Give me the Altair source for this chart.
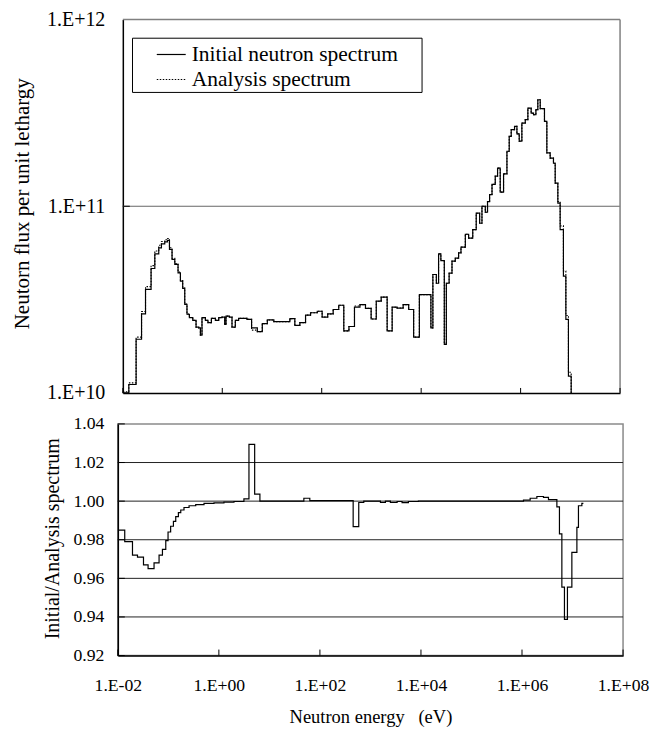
import altair as alt
import pandas as pd

FONT = "Liberation Serif"

# ---------------- top panel: neutron spectrum (group lower edges, eV) ----------------
energy_edges = [
    0.0100, 0.0132, 0.0185, 0.0238, 0.0286, 0.0370, 0.0440, 0.0528, 0.0598, 0.0697,
    0.0791, 0.0867, 0.0977, 0.111, 0.129, 0.144, 0.160, 0.176, 0.195, 0.218,
    0.255, 0.297, 0.336, 0.363, 0.391, 0.458, 0.516, 0.604, 0.726, 0.847,
    0.986, 1.12, 1.19, 1.39, 1.57, 1.83, 2.13, 3.13, 3.89, 5.07,
    6.38, 8.05, 10.9, 22.9, 28.8, 36.3, 47.3, 59.6, 81.3, 102,
    132, 170, 220, 278, 353, 456, 588, 759, 986, 1250,
    1570, 2070, 2610, 3280, 4340, 5610, 7060, 9200, 1.57e4, 1.72e4,
    2.02e4, 2.24e4, 2.49e4, 2.92e4, 3.21e4, 3.65e4, 4.17e4, 4.86e4, 5.66e4, 6.32e4,
    7.73e4, 9.00e4, 1.09e5, 1.28e5, 1.50e5, 1.67e5, 1.95e5, 2.16e5, 2.38e5, 2.66e5,
    3.09e5, 3.44e5, 3.89e5, 4.54e5, 5.31e5, 5.90e5, 6.47e5, 7.55e5, 8.43e5, 9.38e5,
    1.06e6, 1.24e6, 1.40e6, 1.63e6, 1.82e6, 2.03e6, 2.22e6, 2.48e6, 3.02e6, 3.37e6,
    3.93e6, 4.58e6, 4.96e6, 5.61e6, 6.24e6, 7.26e6, 8.13e6, 9.16e6, 1.04e7,
]
initial_flux = [
    1.00e10, 1.11e10, 1.94e10, 2.65e10, 3.59e10, 4.64e10, 5.56e10, 5.98e10, 6.29e10, 6.44e10,
    6.56e10, 5.87e10, 5.19e10, 4.88e10, 4.40e10, 3.97e10, 3.63e10, 2.98e10, 2.64e10, 2.53e10,
    2.45e10, 2.25e10, 2.23e10, 2.04e10, 2.53e10, 2.45e10, 2.38e10, 2.51e10, 2.45e10, 2.53e10,
    2.55e10, 2.33e10, 2.58e10, 2.55e10, 2.25e10, 2.45e10, 2.51e10, 2.48e10, 2.23e10, 2.13e10,
    2.35e10, 2.46e10, 2.41e10, 2.50e10, 2.30e10, 2.38e10, 2.61e10, 2.69e10, 2.74e10, 2.55e10,
    2.65e10, 2.80e10, 2.95e10, 2.15e10, 2.27e10, 2.88e10, 2.97e10, 2.84e10, 2.49e10, 3.10e10,
    3.26e10, 2.15e10, 2.88e10, 2.85e10, 2.97e10, 2.80e10, 1.99e10, 3.36e10, 2.23e10, 4.31e10,
    3.87e10, 5.56e10, 5.12e10, 1.82e10, 3.87e10, 4.38e10, 5.08e10, 5.27e10, 5.63e10, 6.04e10,
    7.08e10, 6.75e10, 7.50e10, 9.18e10, 8.11e10, 1.00e11, 9.29e10, 1.06e11, 1.155e11, 1.31e11,
    1.45e11, 1.60e11, 1.19e11, 1.49e11, 1.97e11, 2.37e11, 2.57e11, 2.68e11, 2.44e11, 2.23e11,
    2.79e11, 2.91e11, 3.35e11, 3.15e11, 3.09e11, 3.29e11, 3.72e11, 3.33e11, 2.85e11, 1.93e11,
    1.81e11, 1.70e11, 1.33e11, 1.04e11, 7.50e10, 4.22e10, 2.48e10, 1.23e10, 5.0e9,
]
analysis_flux = [
    1.015e10, 1.133e10, 1.99e10, 2.73e10, 3.71e10, 4.81e10, 5.76e10, 6.18e10, 6.48e10, 6.62e10,
    6.72e10, 5.99e10, 5.27e10, 4.94e10, 4.44e10, 4.00e10, 3.65e10, 2.99e10, 2.645e10, 2.535e10,
    2.45e10, 2.25e10, 2.23e10, 2.04e10, 2.53e10, 2.45e10, 2.38e10, 2.51e10, 2.45e10, 2.53e10,
    2.55e10, 2.33e10, 2.58e10, 2.55e10, 2.25e10, 2.45e10, 2.51e10, 2.48e10, 2.17e10, 2.13e10,
    2.35e10, 2.46e10, 2.41e10, 2.50e10, 2.30e10, 2.38e10, 2.61e10, 2.69e10, 2.74e10, 2.55e10,
    2.65e10, 2.80e10, 2.95e10, 2.15e10, 2.27e10, 2.92e10, 2.97e10, 2.84e10, 2.49e10, 3.10e10,
    3.26e10, 2.15e10, 2.88e10, 2.85e10, 2.97e10, 2.80e10, 1.99e10, 3.36e10, 2.23e10, 4.31e10,
    3.87e10, 5.56e10, 5.12e10, 1.82e10, 3.87e10, 4.38e10, 5.08e10, 5.27e10, 5.63e10, 6.04e10,
    7.08e10, 6.75e10, 7.50e10, 9.18e10, 8.11e10, 1.00e11, 9.29e10, 1.06e11, 1.155e11, 1.31e11,
    1.45e11, 1.60e11, 1.19e11, 1.49e11, 1.97e11, 2.37e11, 2.57e11, 2.68e11, 2.44e11, 2.23e11,
    2.79e11, 2.91e11, 3.35e11, 3.15e11, 3.09e11, 3.29e11, 3.72e11, 3.33e11, 2.85e11, 1.93e11,
    1.81e11, 1.70e11, 1.33e11, 1.06e11, 7.85e10, 4.50e10, 2.60e10, 1.29e10, 5.0e9,
]

# ---------------- bottom panel: ratio initial / analysis ----------------
ratio_edges = [
    0.0100, 0.0137, 0.0195, 0.0245, 0.0322, 0.0397, 0.0521, 0.0655, 0.0764, 0.0889,
    0.0986, 0.111, 0.126, 0.140, 0.158, 0.176, 0.204, 0.257, 0.348, 0.508,
    0.800, 1.26, 1.99, 3.13, 3.94, 5.11, 6.49, 48.1, 63.1, 455,
    587, 738, 1578, 1977, 2483, 3373, 4227, 5636, 8892, 1.07e6,
    1.45e6, 1.97e6, 2.66e6, 3.34e6, 4.90e6, 5.51e6, 6.15e6, 6.92e6, 7.93e6, 9.70e6,
    1.22e7, 1.31e7, 1.53e7, 1.64e7,
]
ratio_values = [
    0.985, 0.979, 0.972, 0.971, 0.967, 0.965, 0.968, 0.972, 0.975, 0.9795,
    0.984, 0.987, 0.9895, 0.992, 0.994, 0.9954, 0.9967, 0.9976, 0.9982, 0.9988,
    0.9991, 0.9995, 0.9998, 1.0012, 1.0294, 1.0036, 1.0000, 1.0015, 1.0003, 0.9868,
    0.9993, 1.0000, 0.9993, 1.0000, 0.9993, 0.9998, 0.9992, 0.9998, 1.0000, 1.0005,
    1.0015, 1.0024, 1.0019, 1.0008, 0.997, 0.983, 0.9555, 0.9387, 0.9555, 0.9735,
    0.9864, 0.9976, 0.9988, 0.9988,
]

x_ticks = [1e-2, 1e0, 1e2, 1e4, 1e6, 1e8]
top_y_ticks = [1e10, 1e11, 1e12]
bottom_y_ticks = [0.92, 0.94, 0.96, 0.98, 1.00, 1.02, 1.04]
bottom_grid = [0.94, 0.96, 0.98, 1.00, 1.02]
legend_labels = ["Initial neutron spectrum", "Analysis spectrum"]

W_TOP, H_TOP = 506, 374
W_BOT, H_BOT = 506, 232

top_df = pd.DataFrame({"energy": energy_edges, "initial": initial_flux,
                       "analysis": analysis_flux})
ratio_df = pd.DataFrame({"energy": ratio_edges, "ratio": ratio_values})

# ---------------- top chart ----------------
xs_top = alt.Scale(type="log", domain=[1e-2, 1e8], range=[5, 503], nice=False)
ys_top = alt.Scale(type="log", domain=[1e10, 1e12], nice=False)
x_top_axis = alt.Axis(title=None, labels=False, ticks=False, grid=False,
                      domainColor="black", domainWidth=1.5)
y_top_axis = alt.Axis(
    title="Neutorn flux per unit lethargy", values=top_y_ticks,
    labelExpr="datum.value > 5e11 ? '1.E+12' : (datum.value > 5e10 ? '1.E+11' : '1.E+10')",
    ticks=False, grid=False, offset=-5, labelPadding=18,
    labelFont=FONT, labelFontSize=20, labelColor="black",
    titleFont=FONT, titleFontSize=21, titleFontWeight="normal", titleColor="black",
    titleX=-100, titleY=184, titleBaseline="middle",
    domainColor="black", domainWidth=1.5)

X_T = alt.X("energy:Q", scale=xs_top, axis=x_top_axis)

initial_line = alt.Chart(top_df).mark_line(
    interpolate="step-after", color="black", strokeWidth=1.2, clip=True
).encode(x=X_T, y=alt.Y("initial:Q", scale=ys_top, axis=y_top_axis))

analysis_line = alt.Chart(top_df).mark_line(
    interpolate="step-after", color="black", strokeWidth=1.1, strokeDash=[1.5, 1.5], clip=True
).encode(x=X_T, y=alt.Y("analysis:Q", scale=ys_top, axis=y_top_axis))

grid_top = alt.Chart().mark_rule(color="#666666", strokeWidth=1).encode(
    x=alt.datum(1e-2, scale=xs_top), x2=alt.datum(1e8), y=alt.datum(1e11, scale=ys_top))
frame_top = alt.Chart().mark_rule(color="#808080", strokeWidth=1.5).encode(
    x=alt.datum(1e-2, scale=xs_top), x2=alt.datum(1e8), y=alt.datum(1e12, scale=ys_top))
frame_right = alt.Chart().mark_rule(color="#808080", strokeWidth=1.5).encode(
    x=alt.datum(1e8, scale=xs_top), y=alt.datum(1e10, scale=ys_top), y2=alt.datum(1e12))
ytick_top = alt.Chart().mark_rule(color="black", strokeWidth=1).encode(
    x=alt.value(5), x2=alt.value(12), y=alt.datum(1e11, scale=ys_top))
xticks_top = alt.Chart(pd.DataFrame({"t": x_ticks})).mark_rule(color="black", strokeWidth=1).encode(
    x=alt.X("t:Q", scale=xs_top), y=alt.value(H_TOP), y2=alt.value(H_TOP - 5))

legend_box = alt.Chart().mark_rect(fill="white", stroke="black", strokeWidth=1).encode(
    x=alt.value(14.7), x2=alt.value(304.7), y=alt.value(18.7), y2=alt.value(73))
legend_solid = alt.Chart().mark_rule(color="black", strokeWidth=1.2).encode(
    x=alt.value(39), x2=alt.value(68), y=alt.value(35))
legend_dot = alt.Chart().mark_rule(color="black", strokeWidth=1.1, strokeDash=[1.5, 1.5]).encode(
    x=alt.value(39), x2=alt.value(68), y=alt.value(60))
legend_t1 = alt.Chart(pd.DataFrame({"t": [legend_labels[0]]})).mark_text(
    align="left", baseline="middle", font=FONT, fontSize=21.5, color="black").encode(
    x=alt.value(74), y=alt.value(35.5), text="t:N")
legend_t2 = alt.Chart(pd.DataFrame({"t": [legend_labels[1]]})).mark_text(
    align="left", baseline="middle", font=FONT, fontSize=21.5, color="black").encode(
    x=alt.value(74), y=alt.value(60.5), text="t:N")

top = alt.layer(
    grid_top, frame_top, frame_right, ytick_top, xticks_top,
    initial_line, analysis_line,
    legend_box, legend_solid, legend_dot, legend_t1, legend_t2,
).properties(width=W_TOP, height=H_TOP,
             view=alt.ViewBackground(stroke="transparent"))

# ---------------- bottom chart ----------------
xs_bot = alt.Scale(type="log", domain=[1e-2, 1e8], nice=False)
ys_bot = alt.Scale(domain=[0.92, 1.04], nice=False, zero=False)
x_bot_axis = alt.Axis(
    title="Neutron energy\u00a0\u00a0\u00a0(eV)", values=x_ticks,
    labelExpr=("datum.value < 0.1 ? '1.E-02' : datum.value < 10 ? '1.E+00' : "
               "datum.value < 1000 ? '1.E+02' : datum.value < 1e5 ? '1.E+04' : "
               "datum.value < 1e7 ? '1.E+06' : '1.E+08'"),
    ticks=False, grid=False, labelPadding=21, labelFlush=False,
    labelFont=FONT, labelFontSize=17.7, labelColor="black",
    titleFont=FONT, titleFontSize=18.5, titleFontWeight="normal", titleColor="black",
    titlePadding=13, domainColor="black", domainWidth=1.5)
y_bot_axis = alt.Axis(
    title="Initial/Analysis spectrum", values=bottom_y_ticks, format=".2f",
    ticks=False, grid=False, labelPadding=14,
    labelFont=FONT, labelFontSize=17.7, labelColor="black",
    titleFont=FONT, titleFontSize=20, titleFontWeight="normal", titleColor="black",
    titleX=-65, titleY=114.5, titleBaseline="middle",
    domainColor="black", domainWidth=1.5)

grid_bot = alt.Chart(pd.DataFrame({"g": bottom_grid})).mark_rule(color="#222222", strokeWidth=1).encode(
    y=alt.Y("g:Q", scale=ys_bot, axis=y_bot_axis))
yticks_bot = alt.Chart(pd.DataFrame({"g": bottom_y_ticks})).mark_rule(color="black", strokeWidth=1).encode(
    x=alt.value(0), x2=alt.value(7), y=alt.Y("g:Q", scale=ys_bot, axis=y_bot_axis))
xticks_bot = alt.Chart(pd.DataFrame({"t": x_ticks})).mark_rule(color="black", strokeWidth=1).encode(
    x=alt.X("t:Q", scale=xs_bot, axis=x_bot_axis), y=alt.value(H_BOT), y2=alt.value(H_BOT - 6))
ratio_line = alt.Chart(ratio_df).mark_line(
    interpolate="step-after", color="black", strokeWidth=1.2, clip=True
).encode(x=alt.X("energy:Q", scale=xs_bot, axis=x_bot_axis),
         y=alt.Y("ratio:Q", scale=ys_bot, axis=y_bot_axis))

bottom = alt.layer(grid_bot, yticks_bot, xticks_bot, ratio_line).properties(
    width=W_BOT, height=H_BOT,
    view=alt.ViewBackground(stroke="#8a8a8a", strokeWidth=1.5))

chart = alt.vconcat(top, bottom, spacing=10).properties(
    padding={"left": 3, "top": 0, "right": 5, "bottom": 5},
    background="white",
)

chart.save("out.html", embed_options={"renderer": "svg", "actions": False})
